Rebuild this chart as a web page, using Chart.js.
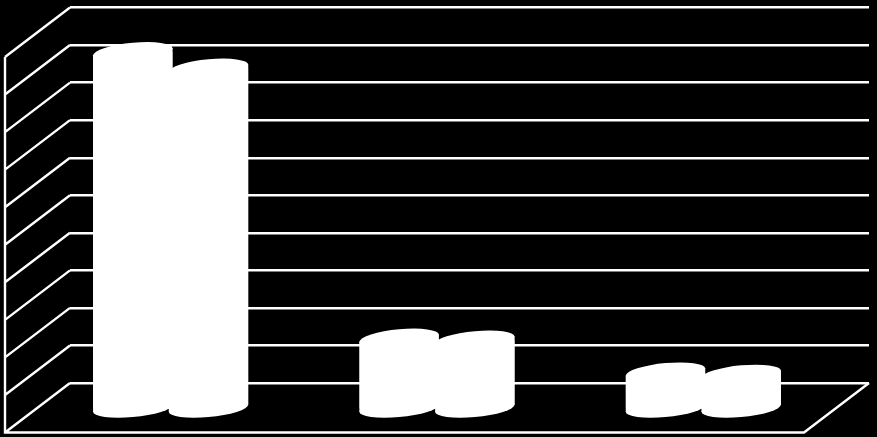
<!DOCTYPE html>
<html>
<head>
<meta charset="utf-8">
<style>
html,body{margin:0;padding:0;background:#000;overflow:hidden}
canvas{display:block}
</style>
<script src="https://cdn.jsdelivr.net/npm/chart.js@4"></script>
</head>
<body>
<canvas id="c" width="877" height="437"></canvas>
<script>
const categories = ["Group 1", "Group 2", "Group 3"];
const seriesA = [9.52, 1.89, 0.99];
const seriesB = [9.08, 1.84, 0.93];
const axisMax = 10;
const axisStep = 1;

const LINE = '#ffffff';
const depthX = 65;
const depthY = 49.5;
const barShiftX = -depthX / 2;
const barShiftY = depthY / 2 + 1.5;
const skew = 0.09;
const capRy = 9;

function capPath(ctx, cx, cy, w) {
  ctx.save();
  ctx.transform(1, -skew, 0, 1, cx, cy);
  ctx.beginPath();
  ctx.ellipse(0, 0, w / 2, capRy, 0, 0, Math.PI * 2);
  ctx.restore();
}
function sidePath(ctx, b) {
  const l = b.x - b.width / 2, r = b.x + b.width / 2, d = skew * b.width / 2;
  ctx.moveTo(l, b.y + d);
  ctx.lineTo(r, b.y - d);
  ctx.lineTo(r, b.base - d);
  ctx.lineTo(l, b.base + d);
  ctx.closePath();
}

const depthPlugin = {
  id: 'depth',
  beforeDatasetsDraw(chart) {
    const {ctx, chartArea: a, scales: {y}} = chart;
    ctx.save();
    ctx.strokeStyle = LINE;
    ctx.lineWidth = 2.4;
    ctx.beginPath();
    y.ticks.forEach(t => {
      const py = y.getPixelForValue(t.value);
      ctx.moveTo(a.left, py);
      ctx.lineTo(a.left - depthX, py + depthY);
    });
    const top = y.getPixelForValue(axisMax), bot = y.getPixelForValue(0);
    ctx.moveTo(a.left - depthX, top + depthY);
    ctx.lineTo(a.left - depthX, bot + depthY);
    ctx.lineTo(a.right - depthX, bot + depthY);
    ctx.lineTo(a.right, bot);
    ctx.stroke();
    ctx.restore();
  },
  beforeDatasetDraw(chart, args) {
    const {ctx} = chart;
    ctx.save();
    ctx.translate(barShiftX, barShiftY);
    ctx.beginPath();
    args.meta.data.forEach(b => sidePath(ctx, b));
    ctx.clip();
  },
  afterDatasetDraw(chart, args) {
    const {ctx} = chart;
    ctx.restore();
    ctx.save();
    ctx.translate(barShiftX, barShiftY);
    ctx.fillStyle = LINE;
    args.meta.data.forEach(b => {
      ctx.beginPath();
      sidePath(ctx, b);
      ctx.fill();
      capPath(ctx, b.x, b.y, b.width);
      ctx.fill();
      capPath(ctx, b.x, b.base, b.width);
      ctx.fill();
    });
    ctx.restore();
  }
};

new Chart(document.getElementById('c'), {
  type: 'bar',
  data: {
    labels: categories,
    datasets: [
      {label: 'Series 1', data: seriesA, backgroundColor: '#fff', borderWidth: 0, clip: false},
      {label: 'Series 2', data: seriesB, backgroundColor: '#fff', borderWidth: 0, clip: false}
    ]
  },
  plugins: [depthPlugin],
  options: {
    responsive: false,
    devicePixelRatio: 1,
    animation: false,
    events: [],
    layout: {padding: {left: 70, right: 8, top: 7.5, bottom: 54}},
    datasets: {bar: {categoryPercentage: 0.5685, barPercentage: 1.05}},
    plugins: {legend: {display: false}, tooltip: {enabled: false}, title: {display: false}},
    scales: {
      x: {
        ticks: {display: false},
        grid: {display: false, drawTicks: false},
        border: {display: false}
      },
      y: {
        min: 0, max: axisMax,
        ticks: {display: false, stepSize: axisStep},
        grid: {color: LINE, lineWidth: 2.4, drawTicks: false},
        border: {display: false}
      }
    }
  }
});
</script>
</body>
</html>
